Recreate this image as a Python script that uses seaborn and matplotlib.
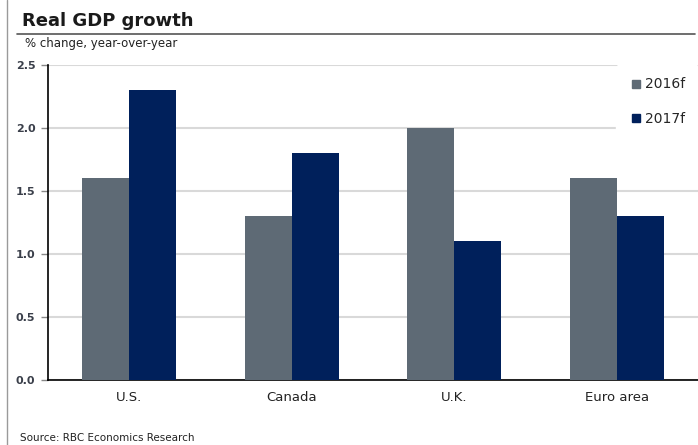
import matplotlib
matplotlib.use("Agg")
import matplotlib.pyplot as plt
import seaborn as sns
import pandas as pd
from matplotlib.lines import Line2D

categories = ["U.S.", "Canada", "U.K.", "Euro area"]
series_names = ["2016f", "2017f"]
values_2016 = [1.6, 1.3, 2.0, 1.6]
values_2017 = [2.3, 1.8, 1.1, 1.3]
y_ticks = [0.0, 0.5, 1.0, 1.5, 2.0, 2.5]
colors = ["#5e6a75", "#00205b"]

df = pd.DataFrame({
    "region": categories * 2,
    "series": [series_names[0]] * 4 + [series_names[1]] * 4,
    "value": values_2016 + values_2017,
})

sns.set_theme(style="white")
plt.rcParams["font.family"] = ["DejaVu Sans"]

fig = plt.figure(figsize=(6.98, 4.45), dpi=100)
ax = fig.add_axes([48 / 698, (445 - 380) / 445, 650 / 698, 315 / 445])

sns.barplot(data=df, x="region", y="value", hue="series", palette=colors,
            width=0.58, gap=0, saturation=1, ax=ax, legend=False, zorder=3,
            linewidth=0, edgecolor="none")

ax.set_ylim(0, 2.5)
ax.set_xlim(-0.5, 3.5)
ax.set_yticks(y_ticks)
ax.set_yticklabels([f"{t:.1f}" for t in y_ticks], fontsize=8, fontweight="bold", color="#3a3f4a")
ax.set_xticks(range(len(categories)))
ax.set_xticklabels(categories, fontsize=9.5, color="#222222")
ax.tick_params(axis="x", length=0, pad=8)
ax.tick_params(axis="y", length=5, width=1, color="#888888", left=True, pad=4, direction="out")
ax.set_xlabel("")
ax.set_ylabel("")
ax.grid(axis="y", color="#d9d9d9", linewidth=1.5, zorder=0)
ax.set_axisbelow(True)
for s in ["top", "right"]:
    ax.spines[s].set_visible(False)
ax.spines["left"].set_color("black")
ax.spines["left"].set_linewidth(1.2)
ax.spines["bottom"].set_color("black")
ax.spines["bottom"].set_linewidth(1.2)

handles = [Line2D([], [], marker="s", linestyle="", markersize=6,
                  markerfacecolor=c, markeredgecolor=c) for c in colors]
leg = ax.legend(handles, series_names, loc="upper right", bbox_to_anchor=(1.0, 1.0),
                frameon=True, fontsize=10, labelspacing=1.5, handletextpad=0.2,
                handlelength=1.0, borderpad=0.9, borderaxespad=0.0)
leg.get_frame().set_facecolor("white")
leg.get_frame().set_edgecolor("white")
leg.get_frame().set_alpha(1)
leg.set_zorder(5)

fig.text(22 / 698, 1 - 21 / 445, "Real GDP growth", fontsize=13, fontweight="bold",
         color="#1a1a1a", va="center", ha="left")
fig.add_artist(Line2D([17 / 698, 695 / 698], [1 - 34 / 445, 1 - 34 / 445],
                      color="#555555", linewidth=1.2))
fig.add_artist(Line2D([7 / 698, 7 / 698], [0, 1], color="#9a9a9a", linewidth=1.0))
fig.text(25 / 698, 1 - 44 / 445, "% change, year-over-year", fontsize=8.5,
         color="#222222", va="center", ha="left")
fig.text(20 / 698, 1 - 438 / 445, "Source: RBC Economics Research", fontsize=7.5,
         color="#222222", va="center", ha="left")

fig.savefig("out.png", dpi=100)
